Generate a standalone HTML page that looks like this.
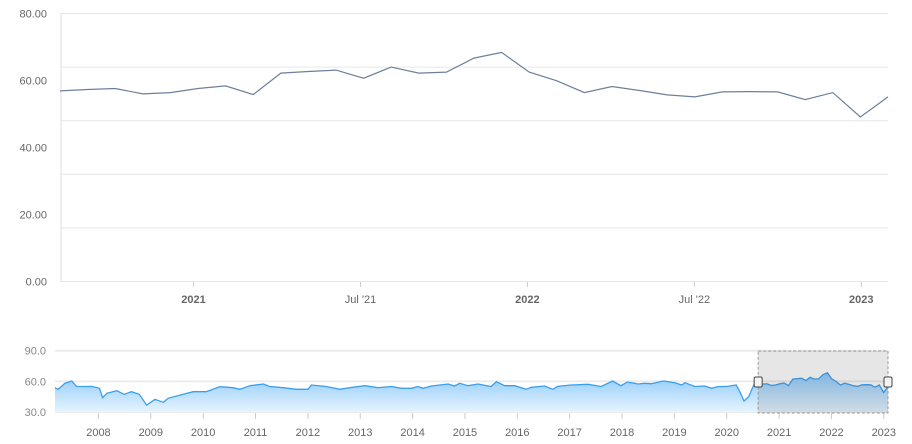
<!DOCTYPE html>
<html><head><meta charset="utf-8"><style>
html,body{margin:0;padding:0;background:#fff;}
svg{display:block;font-family:"Liberation Sans",sans-serif;}
</style></head><body>
<svg id="chart" width="912" height="444"></svg>
<script>
// Main chart data (monthly from Aug 2020)
const mainStart = 2020.60;
const mainValues = [56.9,57.3,57.6,56.0,56.4,57.6,58.4,55.8,62.2,62.7,63.1,60.7,64.0,62.2,62.5,66.7,68.4,62.5,59.9,56.4,58.2,57.0,55.7,55.1,56.6,56.7,56.6,54.3,56.4,49.1,55.1];
const mainYTickLabels = ["0.00","20.00","40.00","60.00","80.00"];
const mainYTickValues = [0,20,40,60,80];
const mainGridValues = [0,16,32,48,64,80];
const mainXTickDates = [2021,2021.5,2022,2022.5,2023];
const mainXTickLabels = ["2021","Jul '21","2022","Jul '22","2023"];
// Navigator history (decimal years) before the main range
const navDates = [2007.17,2007.23,2007.36,2007.49,2007.58,2007.77,2007.87,2008.02,2008.08,2008.16,2008.35,2008.49,2008.63,2008.78,2008.92,2009.08,2009.24,2009.33,2009.62,2009.81,2010.06,2010.32,2010.57,2010.70,2010.89,2011.15,2011.27,2011.53,2011.78,2012.00,2012.07,2012.35,2012.61,2012.80,2013.09,2013.34,2013.60,2013.79,2013.98,2014.10,2014.20,2014.36,2014.68,2014.80,2014.90,2015.06,2015.25,2015.50,2015.60,2015.76,2015.95,2016.17,2016.27,2016.52,2016.68,2016.77,2017.03,2017.35,2017.60,2017.82,2017.98,2018.10,2018.31,2018.43,2018.56,2018.79,2019.01,2019.14,2019.20,2019.39,2019.58,2019.71,2019.84,2020.00,2020.18,2020.25,2020.33,2020.42,2020.53];
const navValues = [53.8,52.2,58.1,60.3,55.1,55.0,55.1,53.2,44.0,48.3,50.8,47.3,49.9,47.3,36.8,42.4,39.5,43.4,47.3,49.9,49.9,54.8,53.8,52.2,55.7,57.4,55.0,53.8,52.2,52.2,56.4,55.0,52.2,53.8,55.7,53.8,55.0,53.2,53.2,55.0,53.2,55.4,57.4,55.4,58.1,55.7,57.4,55.0,59.7,55.7,55.7,52.2,54.2,55.4,52.2,55.1,56.4,57.1,55.0,60.3,55.7,59.4,57.4,58.1,57.7,60.3,58.7,56.4,58.7,55.0,55.4,53.2,55.0,55.0,56.4,49.9,40.8,45.0,58.1];
const navYTickLabels = ["30.0","60.0","90.0"];
const navYTickValues = [30,60,90];
const navXTickDates = [2008,2009,2010,2011,2012,2013,2014,2015,2016,2017,2018,2019,2020,2021,2022,2023];

const NS="http://www.w3.org/2000/svg";
const svg=document.getElementById('chart');
function mk(tag,attrs,parent){const e=document.createElementNS(NS,tag);for(const k in attrs)e.setAttribute(k,attrs[k]);(parent||svg).appendChild(e);return e;}

const mainDates = mainValues.map((v,i)=>mainStart+i/12*0.992);
const mx0=mainStart, mx1=mainDates[mainDates.length-1];
const mX=d=>60+(d-mx0)/(mx1-mx0)*828;
const mY=v=>281.5-v*(268/80);
const nx0=2007.17, nx1=mx1;
const nX=d=>55+(d-nx0)/(nx1-nx0)*833;
const nY=v=>412-(v-30)*(61.3/60);

// defs
const defs=mk('defs',{});
const grad=mk('linearGradient',{id:'ng',x1:0,y1:0,x2:0,y2:1},defs);
mk('stop',{offset:'0','stop-color':'#8cc8fa'},grad);
mk('stop',{offset:'1','stop-color':'#e6f4fe'},grad);

// main gridlines
mainGridValues.forEach(v=>{
  const g=mk('line',{x1:61,x2:888,y1:mY(v),y2:mY(v),stroke:'#e6e6e6','stroke-width':1});
  
  
});
const ax=mk('line',{x1:61,x2:61,y1:13,y2:282,stroke:'#dcdcdc'});


mainYTickValues.forEach((v,i)=>{
  const t=mk('text',{x:47,y:mY(v)+4,'text-anchor':'end','font-size':11,fill:'#666'});
  t.textContent=mainYTickLabels[i];
  
  
});
mainXTickDates.forEach((d,i)=>{
  const x=mX(d);
  const tk=mk('line',{x1:x,x2:x,y1:282,y2:287,stroke:'#ccc'});
  
  
  const bold=mainXTickLabels[i].indexOf("'")<0;
  const t=mk('text',{x:x,y:303,'text-anchor':'middle','font-size':11,fill:'#666','font-weight':bold?'bold':'normal'});
  t.textContent=mainXTickLabels[i];
  
  
});
const mline=mk('path',{d:mainValues.map((v,i)=>(i?'L':'M')+mX(mainDates[i]).toFixed(1)+','+mY(v).toFixed(1)).join(''),fill:'none',stroke:'#6e7f9c','stroke-width':1.2});



// navigator
navYTickValues.forEach((v,i)=>{
  const g=mk('line',{x1:55,x2:888,y1:nY(v),y2:nY(v),stroke:'#ececec','stroke-width':2});
  
  
  const t=mk('text',{x:46,y:nY(v)+4,'text-anchor':'end','font-size':11,fill:'#888'});
  t.textContent=navYTickLabels[i];
  
  
});
const allD=navDates.concat(mainDates), allV=navValues.concat(mainValues);
let pd=allV.map((v,i)=>(i?'L':'M')+nX(allD[i]).toFixed(1)+','+nY(v).toFixed(1)).join('');
const area=mk('path',{d:pd+'L'+nX(allD[allD.length-1]).toFixed(1)+',412L'+nX(allD[0]).toFixed(1)+',412Z',fill:'url(#ng)'});


const nl=mk('path',{d:pd,fill:'none',stroke:'#3a9ff0','stroke-width':1.3});


navXTickDates.forEach(d=>{
  const x=nX(d);
  const tk=mk('line',{x1:x,x2:x,y1:413,y2:419,stroke:'#ccc'});
  
  
  const t=mk('text',{x:x,y:436,'text-anchor':'middle','font-size':11,fill:'#666'});
  t.textContent=String(d);
  
  
});
// selection
const sx0=nX(mx0), sx1=nX(mx1);
const sel=mk('rect',{x:sx0,y:351,width:sx1-sx0,height:62,fill:'rgba(60,60,60,0.13)',stroke:'#999','stroke-dasharray':'3,2'});


[sx0,sx1].forEach((x,i)=>{
  const h=mk('rect',{x:x-4,y:377,width:8,height:10,rx:1.5,fill:'#f4f4f4',stroke:'#444','stroke-width':1});
  
  
});
</script>
</body></html>
